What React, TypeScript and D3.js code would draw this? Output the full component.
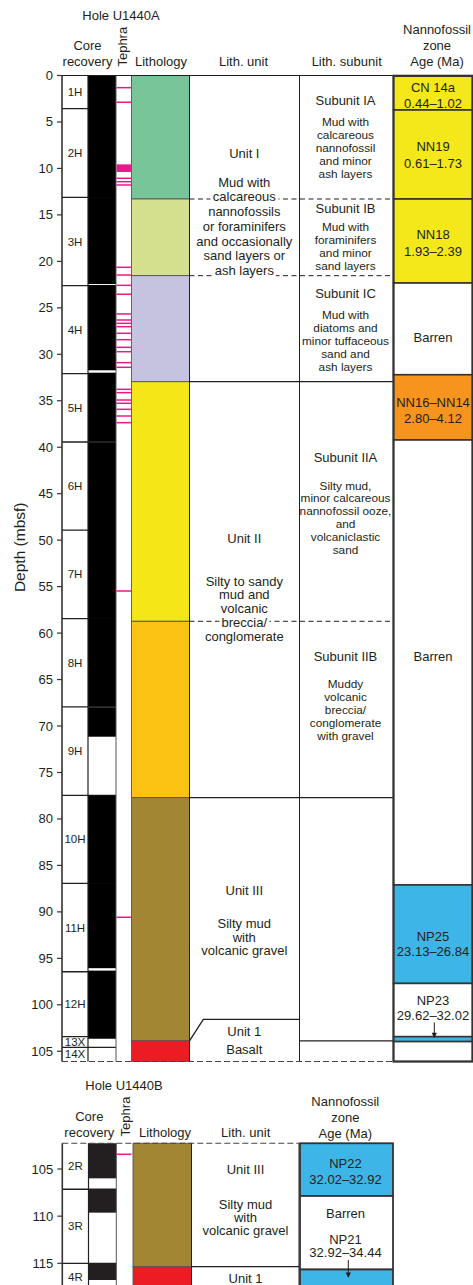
import React from "react";
import * as d3 from "d3";

// ---------------- DATA ----------------
const depthTicksA = [0, 5, 10, 15, 20, 25, 30, 35, 40, 45, 50, 55, 60, 65, 70, 75, 80, 85, 90, 95, 100, 105];
const depthTicksB = [105, 110, 115];

const coresA = [
  { name: "1H", top: 0, bottom: 3.57 },
  { name: "2H", top: 3.57, bottom: 13.11 },
  { name: "3H", top: 13.11, bottom: 22.62 },
  { name: "4H", top: 22.62, bottom: 32.09 },
  { name: "5H", top: 32.09, bottom: 39.44 },
  { name: "6H", top: 39.44, bottom: 48.91 },
  { name: "7H", top: 48.91, bottom: 58.45 },
  { name: "8H", top: 58.45, bottom: 67.95 },
  { name: "9H", top: 67.95, bottom: 77.46 },
  { name: "10H", top: 77.46, bottom: 86.93 },
  { name: "11H", top: 86.93, bottom: 96.44 },
  { name: "12H", top: 96.44, bottom: 103.43 },
  { name: "13X", top: 103.43, bottom: 104.57 },
  { name: "14X", top: 104.57, bottom: 106.1 },
];

// recovered intervals [top, bottom] (m)
const recoveredA = [
  [0, 13.11], [13.11, 22.44], [22.55, 31.72], [31.98, 39.4], [39.48, 58.45],
  [58.45, 67.91], [67.99, 71.15], [77.46, 86.93], [86.93, 96.06], [96.32, 103.65],
];

const tephraA = [
  1.31, 2.88, 11.06, 11.43, 11.78, 20.64, 21.47, 22.58, 23.54, 25.66, 26.31, 26.67, 27.03,
  27.74, 28.43, 29.25, 29.72, 30.9, 31.4, 33.77, 34.13, 34.92, 35.27, 35.92, 36.64, 37.36,
  55.47, 90.58,
];
const tephraBandsA = [[9.56, 10.38]];

const lithA = [
  { top: 0, bottom: 13.29, lith: "IA" },
  { top: 13.29, bottom: 21.54, lith: "IB" },
  { top: 21.54, bottom: 32.95, lith: "IC" },
  { top: 32.95, bottom: 58.73, lith: "IIA" },
  { top: 58.73, bottom: 77.71, lith: "IIB" },
  { top: 77.71, bottom: 103.87, lith: "III" },
  { top: 103.87, bottom: 106.1, lith: "basalt" },
];

const boundariesA = [
  { depth: 13.29, kind: "subunit" },
  { depth: 21.54, kind: "subunit" },
  { depth: 32.95, kind: "unit" },
  { depth: 58.73, kind: "subunit" },
  { depth: 77.71, kind: "unit" },
];
const basaltTopUnitColA = 101.56;

const zonesA = [
  { top: 0, bottom: 3.71, tint: "yellow" },
  { top: 3.71, bottom: 13.29, tint: "yellow" },
  { top: 13.29, bottom: 22.33, tint: "yellow" },
  { top: 22.33, bottom: 32.2, tint: "none" },
  { top: 32.2, bottom: 39.22, tint: "orange" },
  { top: 39.22, bottom: 87.1, tint: "none" },
  { top: 87.1, bottom: 97.7, tint: "blue" },
  { top: 97.7, bottom: 103.43, tint: "none" },
  { top: 103.43, bottom: 103.96, tint: "blue" },
  { top: 103.96, bottom: 106.1, tint: "none" },
];

// text lines: [text, depth]
const zoneLabelsA: [string, number][] = [
  ["CN 14a", 1.29], ["0.44–1.02", 3.01],
  ["NN19", 7.66], ["0.61–1.73", 9.42],
  ["NN18", 17.16], ["1.93–2.39", 18.89],
  ["Barren", 28.14],
  ["NN16–NN14", 35.21], ["2.80–4.12", 36.93],
  ["Barren", 62.47],
  ["NP25", 92.6], ["23.13–26.84", 94.29],
  ["NP23", 99.5], ["29.62–32.02", 101.1],
];
const zoneArrowA = [101.9, 103.6];

const unitLabelsA: [string, number][] = [
  ["Unit I", 8.37], ["Mud with", 11.49], ["calcareous", 13.04], ["nannofossils", 14.61],
  ["or foraminifers", 16.27], ["and occasionally", 17.81], ["sand layers or", 19.42], ["ash layers", 20.93],
  ["Unit II", 49.8], ["Silty to sandy", 54.4], ["mud and", 55.88], ["volcanic", 57.36],
  ["breccia/", 58.84], ["conglomerate", 60.32],
  ["Unit III", 87.72], ["Silty mud", 91.3], ["with", 92.73], ["volcanic gravel", 94.18],
  ["Unit 1", 102.89], ["Basalt", 104.79],
];

const subunitTitlesA: [string, number][] = [
  ["Subunit IA", 2.71], ["Subunit IB", 14.33], ["Subunit IC", 23.44],
  ["Subunit IIA", 41.13], ["Subunit IIB", 62.54],
];
const subunitTextA: [string, number][] = [
  ["Mud with", 4.97], ["calcareous", 6.4], ["nannofossil", 7.8], ["and minor", 9.23], ["ash layers", 10.6],
  ["Mud with", 16.27], ["foraminifers", 17.7], ["and minor", 19.13], ["sand layers", 20.5],
  ["Mud with", 25.77], ["diatoms and", 27.2], ["minor tuffaceous", 28.57], ["sand and", 30.0], ["ash layers", 31.4],
  ["Silty mud,", 44.17], ["minor calcareous", 45.5], ["nannofossil ooze,", 46.86], ["and", 48.26],
  ["volcaniclastic", 49.63], ["sand", 51.06],
  ["Muddy", 65.51], ["volcanic", 66.88], ["breccia/", 68.27], ["conglomerate", 69.64], ["with gravel", 71.08],
];

// Hole B
const coresB = [
  { name: "2R", top: 102.27, bottom: 107.15 },
  { name: "3R", top: 107.15, bottom: 115 },
  { name: "4R", top: 115, bottom: 117.8 },
];
const recoveredB = [[102.27, 105.99], [107.15, 109.63], [115, 116.77]];
const tephraB = [103.44];
const lithB = [
  { top: 102.27, bottom: 115.36, lith: "III" },
  { top: 115.36, bottom: 117.8, lith: "basalt" },
];
const zonesB = [
  { top: 102.27, bottom: 107.86, tint: "blue" },
  { top: 107.86, bottom: 115.66, tint: "none" },
  { top: 115.66, bottom: 117.8, tint: "blue" },
];
const zoneLabelsB: [string, number][] = [
  ["NP22", 104.4], ["32.02–32.92", 106.09], ["Barren", 109.7], ["NP21", 112.46], ["32.92–34.44", 113.88],
];
const zoneArrowB = [114.65, 116.55];
const unitLabelsB: [string, number][] = [
  ["Unit III", 105.03], ["Silty mud", 108.74], ["with", 110.12], ["volcanic gravel", 111.47], ["Unit 1", 116.59],
];
const unitBoundaryB = 115.36;

// ---------------- STYLE ----------------
const FONT = "'Liberation Sans', Arial, Helvetica, sans-serif";
const INK = "#231f20";
const lithColors: Record<string, string> = {
  IA: "#78c59a",
  IB: "#d4e08d",
  IC: "#c6c3e1",
  IIA: "#f4e617",
  IIB: "#fcc314",
  III: "#a28634",
  basalt: "#ec1c24",
};
const tints: Record<string, string> = {
  yellow: "#f5e81a",
  orange: "#f7941e",
  blue: "#3db5e6",
  none: "#ffffff",
};
const TEPHRA = "#e6198a";

function Label({ x, y, text, size = 13, halo = false }: any) {
  return (
    <text
      x={x}
      y={y}
      fontSize={size}
      textAnchor="middle"
      dominantBaseline="central"
      fill={INK}
      stroke={halo ? "#fff" : "none"}
      strokeWidth={halo ? 6 : 0}
      strokeLinejoin="round"
      paintOrder="stroke"
    >
      {text}
    </text>
  );
}

function Arrow({ x, y1, y2 }: any) {
  return (
    <g>
      <line x1={x} x2={x} y1={y1} y2={y2 - 5} stroke={INK} strokeWidth={1} />
      <path d={`M${x - 2.6},${y2 - 5.5} L${x + 2.6},${y2 - 5.5} L${x},${y2} Z`} fill={INK} />
    </g>
  );
}

export default function App() {
  const yA = d3.scaleLinear().domain([0, 106.1]).range([75.5, 1061.5]);
  const yB = d3.scaleLinear().domain([105, 115]).range([1169, 1263.3]);
  const topA = 0, botA = 106.1;
  const topB = 102.27, botB = 117.8;

  const A = { axis: 62, core: [62, 88], rec: [88, 116], teph: [116.5, 131.5], lith: [131.5, 189.5], unit: [189.5, 299.5], sub: [299.5, 393.5], zone: [393.5, 472.5] };
  const B = { axis: 62.3, core: [62.3, 88.5], rec: [88.5, 116.3], teph: [116.5, 132.5], lith: [133, 191.5], unit: [191.5, 299], zone: [300, 393] };

  const mid = (r: number[]) => (r[0] + r[1]) / 2;

  return (
    <svg width={473} height={1285} style={{ position: "absolute", left: 0, top: 0, background: "#fff" }} fontFamily={FONT}>
      <rect x={0} y={0} width={473} height={1285} fill="#fff" />

      {/* ============ HOLE A ============ */}
      <Label x={121} y={15} text="Hole U1440A" />
      <Label x={87.5} y={45.7} text="Core" />
      <Label x={87.5} y={61.7} text="recovery" />
      <text transform="translate(122.7,46.7) rotate(-90)" fontSize={13} textAnchor="middle" dominantBaseline="central" fill={INK}>Tephra</text>
      <Label x={161} y={61.7} text="Lithology" />
      <Label x={243.5} y={61.7} text="Lith. unit" />
      <Label x={346.7} y={61.7} text="Lith. subunit" />
      <Label x={437} y={29.3} text="Nannofossil" />
      <Label x={437} y={45.7} text="zone" />
      <Label x={437} y={61.7} text="Age (Ma)" />

      {lithA.map((d, i) => (
        <rect key={"la" + i} x={A.lith[0]} y={yA(d.top)} width={A.lith[1] - A.lith[0]} height={yA(d.bottom) - yA(d.top)} fill={lithColors[d.lith]} stroke="#555" strokeWidth={0.9} />
      ))}

      {coresA.slice(1).map((c, i) => (
        <line key={"cba" + i} x1={A.core[0]} x2={A.rec[1]} y1={yA(c.top)} y2={yA(c.top)} stroke={INK} strokeWidth={1.3} />
      ))}
      {recoveredA.map((r, i) => (
        <rect key={"ra" + i} x={A.rec[0]} y={yA(r[0])} width={A.rec[1] - A.rec[0]} height={yA(r[1]) - yA(r[0])} fill="#000" />
      ))}
      <line x1={A.rec[1]} x2={A.rec[1]} y1={yA(topA)} y2={yA(botA)} stroke="#555" strokeWidth={1} />
      <line x1={A.core[1]} x2={A.core[1]} y1={yA(topA)} y2={yA(botA)} stroke={INK} strokeWidth={1.2} />
      {coresA.map((c, i) => (
        <Label key={"cla" + i} x={mid(A.core)} y={yA((c.top + c.bottom) / 2)} text={c.name} size={11.5} />
      ))}

      {tephraBandsA.map((b, i) => (
        <rect key={"tba" + i} x={A.teph[0]} y={yA(b[0])} width={A.teph[1] - A.teph[0]} height={yA(b[1]) - yA(b[0])} fill={TEPHRA} />
      ))}
      {tephraA.map((t, i) => (
        <line key={"ta" + i} x1={A.teph[0]} x2={A.teph[1]} y1={yA(t)} y2={yA(t)} stroke={TEPHRA} strokeWidth={1.5} />
      ))}

      <line x1={A.unit[0]} x2={A.unit[0]} y1={yA(topA)} y2={yA(botA)} stroke={INK} strokeWidth={1} />
      <line x1={A.sub[0]} x2={A.sub[0]} y1={yA(topA)} y2={yA(botA)} stroke={INK} strokeWidth={1} />
      <line x1={A.sub[1]} x2={A.sub[1]} y1={yA(topA)} y2={yA(botA)} stroke={INK} strokeWidth={1} />

      {boundariesA.map((b, i) => (
        <line key={"ba" + i} x1={A.unit[0]} x2={A.sub[1]} y1={yA(b.depth)} y2={yA(b.depth)} stroke={INK} strokeWidth={b.kind === "unit" ? 1.2 : 1} strokeDasharray={b.kind === "unit" ? undefined : "5,3.5"} />
      ))}
      <path d={`M${A.unit[0]},${yA(lithA[6].top)} L${A.unit[0] + 13.8},${yA(basaltTopUnitColA)} L${A.unit[1]},${yA(basaltTopUnitColA)}`} fill="none" stroke={INK} strokeWidth={1.3} />
      <line x1={A.sub[0]} x2={A.sub[1]} y1={yA(lithA[6].top)} y2={yA(lithA[6].top)} stroke={INK} strokeWidth={1.2} />

      <line x1={A.axis} x2={A.sub[1]} y1={yA(topA)} y2={yA(topA)} stroke={INK} strokeWidth={1.2} />
      <line x1={A.axis} x2={A.sub[1]} y1={yA(botA)} y2={yA(botA)} stroke="#444" strokeWidth={1.2} strokeDasharray="6,3" />

      <line x1={A.axis} x2={A.axis} y1={yA(topA)} y2={yA(botA)} stroke="#333" strokeWidth={1.6} />
      {depthTicksA.map((t) => (
        <g key={"tka" + t}>
          <line x1={A.axis - 5} x2={A.axis} y1={yA(t)} y2={yA(t)} stroke="#333" strokeWidth={1.2} />
          <text x={A.axis - 9} y={yA(t)} fontSize={13} textAnchor="end" dominantBaseline="central" fill={INK}>{t}</text>
        </g>
      ))}
      <text transform="translate(19.5,547.3) rotate(-90)" fontSize={15.5} textAnchor="middle" dominantBaseline="central" fill={INK}>Depth (mbsf)</text>

      {unitLabelsA.map(([t, d], i) => (
        <Label key={"ula" + i} x={244.3} y={yA(d)} text={t} halo />
      ))}
      {subunitTitlesA.map(([t, d], i) => (
        <Label key={"sta" + i} x={345.5} y={yA(d)} text={t} />
      ))}
      {subunitTextA.map(([t, d], i) => (
        <Label key={"sxa" + i} x={345.5} y={yA(d)} text={t} size={11.8} />
      ))}

      {zonesA.map((z, i) => (
        <rect key={"za" + i} x={A.zone[0]} y={yA(z.top)} width={A.zone[1] - A.zone[0]} height={yA(z.bottom) - yA(z.top)} fill={tints[z.tint]} stroke="#333" strokeWidth={1.6} />
      ))}
      <rect x={A.zone[0]} y={yA(topA) + 0.5} width={A.zone[1] - A.zone[0]} height={yA(botA) - yA(topA) - 0.5} fill="none" stroke="#333" strokeWidth={2} />
      {zoneLabelsA.map(([t, d], i) => (
        <Label key={"zla" + i} x={433} y={yA(d)} text={t} />
      ))}
      <Arrow x={434.3} y1={yA(zoneArrowA[0])} y2={yA(zoneArrowA[1])} />

      {/* ============ HOLE B ============ */}
      <Label x={124} y={1085} text="Hole U1440B" />
      <Label x={89.3} y={1116.7} text="Core" />
      <Label x={89.3} y={1132.3} text="recovery" />
      <text transform="translate(125,1116.5) rotate(-90)" fontSize={13} textAnchor="middle" dominantBaseline="central" fill={INK}>Tephra</text>
      <Label x={165} y={1132.3} text="Lithology" />
      <Label x={245.7} y={1132.3} text="Lith. unit" />
      <Label x={345.3} y={1101.7} text="Nannofossil" />
      <Label x={345.3} y={1117.7} text="zone" />
      <Label x={345.3} y={1133.3} text="Age (Ma)" />

      {lithB.map((d, i) => (
        <rect key={"lb" + i} x={B.lith[0]} y={yB(d.top)} width={B.lith[1] - B.lith[0]} height={yB(d.bottom) - yB(d.top)} fill={lithColors[d.lith]} stroke="#555" strokeWidth={0.9} />
      ))}
      {coresB.slice(1).map((c, i) => (
        <line key={"cbb" + i} x1={B.core[0]} x2={B.rec[1]} y1={yB(c.top)} y2={yB(c.top)} stroke={INK} strokeWidth={1.3} />
      ))}
      {recoveredB.map((r, i) => (
        <rect key={"rb" + i} x={B.rec[0]} y={yB(r[0])} width={B.rec[1] - B.rec[0]} height={yB(r[1]) - yB(r[0])} fill={INK} />
      ))}
      <line x1={B.rec[1]} x2={B.rec[1]} y1={yB(topB)} y2={yB(botB)} stroke="#555" strokeWidth={1} />
      <line x1={B.core[1]} x2={B.core[1]} y1={yB(topB)} y2={yB(botB)} stroke={INK} strokeWidth={1.2} />
      {coresB.map((c, i) => (
        <Label key={"clb" + i} x={mid(B.core)} y={yB((c.top + c.bottom) / 2)} text={c.name} size={11.5} />
      ))}
      {tephraB.map((t, i) => (
        <line key={"tb" + i} x1={B.teph[0]} x2={B.teph[1] - 1} y1={yB(t)} y2={yB(t)} stroke={TEPHRA} strokeWidth={1.5} />
      ))}

      <line x1={B.unit[0]} x2={B.unit[0]} y1={yB(topB)} y2={yB(botB)} stroke={INK} strokeWidth={1} />
      <line x1={B.unit[1]} x2={B.unit[1]} y1={yB(topB)} y2={yB(botB)} stroke={INK} strokeWidth={1} />
      <line x1={B.unit[0]} x2={B.unit[1]} y1={yB(unitBoundaryB)} y2={yB(unitBoundaryB)} stroke={INK} strokeWidth={1.2} />
      <line x1={B.axis} x2={B.unit[1]} y1={yB(topB)} y2={yB(topB)} stroke="#444" strokeWidth={1.2} strokeDasharray="6,3" />

      <line x1={B.axis} x2={B.axis} y1={yB(topB)} y2={yB(botB)} stroke="#333" strokeWidth={1.6} />
      {depthTicksB.map((t) => (
        <g key={"tkb" + t}>
          <line x1={B.axis - 5} x2={B.axis} y1={yB(t)} y2={yB(t)} stroke="#333" strokeWidth={1.2} />
          <text x={B.axis - 9} y={yB(t)} fontSize={13} textAnchor="end" dominantBaseline="central" fill={INK}>{t}</text>
        </g>
      ))}

      {unitLabelsB.map(([t, d], i) => (
        <Label key={"ulb" + i} x={245.5} y={yB(d)} text={t} />
      ))}

      {zonesB.map((z, i) => (
        <rect key={"zb" + i} x={B.zone[0]} y={yB(z.top)} width={B.zone[1] - B.zone[0]} height={yB(z.bottom) - yB(z.top)} fill={tints[z.tint]} stroke="#333" strokeWidth={1.8} />
      ))}
      {zoneLabelsB.map(([t, d], i) => (
        <Label key={"zlb" + i} x={345.5} y={yB(d)} text={t} />
      ))}
      <Arrow x={348.3} y1={yB(zoneArrowB[0])} y2={yB(zoneArrowB[1])} />
    </svg>
  );
}
